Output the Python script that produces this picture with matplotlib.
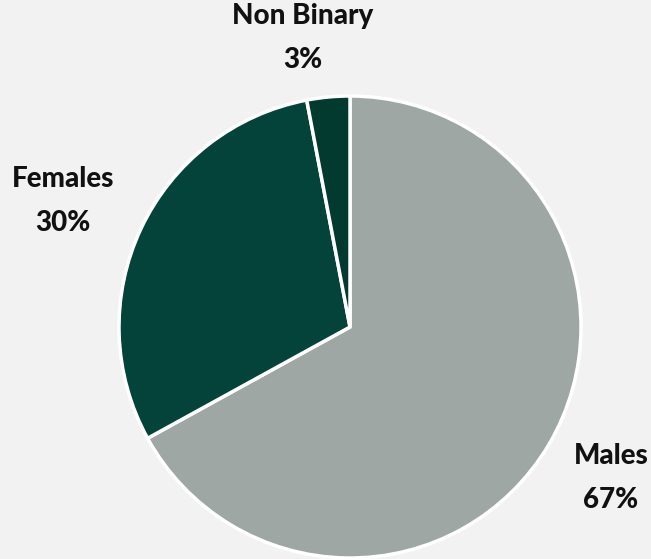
import matplotlib
matplotlib.use("Agg")
import matplotlib.pyplot as plt

# gender split
labels = ["Males", "Females", "Non Binary"]
values = [67, 30, 3]
colors = ["#9ea7a3", "#04433a", "#033a2f"]

# label anchor positions (pixels, y from top)
label_pos = [(611, 478), (63, 201), (303, 38)]

plt.rcParams['font.family'] = ['Lato', 'DejaVu Sans']

fig = plt.figure(figsize=(6.51, 5.59), dpi=100)
fig.patch.set_facecolor("#f2f2f2")
ax = fig.add_axes([0, 0, 1, 1])
ax.set_facecolor("#f2f2f2")

ax.pie(values, colors=colors, startangle=90, counterclock=False,
       center=(350, 559 - 327), radius=231,
       wedgeprops=dict(edgecolor="white", linewidth=2.5))

ax.set_xlim(0, 651)
ax.set_ylim(0, 559)
ax.set_aspect("equal")
ax.axis("off")

for lab, v, (x, y) in zip(labels, values, label_pos):
    ax.text(x, 559 - y, f"{lab}\n{v}%", ha="center", va="center",
            fontsize=20, fontweight="black", color="#111111", linespacing=1.85)

fig.savefig("out.png", dpi=100, facecolor=fig.get_facecolor())
